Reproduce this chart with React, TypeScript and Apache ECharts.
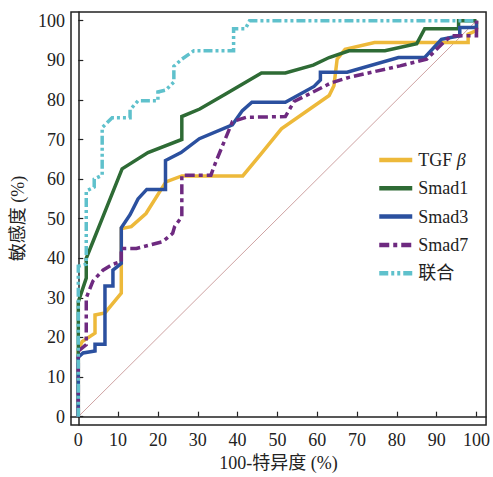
import React, { useEffect, useRef } from "react";
import * as echarts from "echarts";

const seriesNames = ["TGF β", "Smad1", "Smad3", "Smad7", "联合"];
const tickValues = [0, 10, 20, 30, 40, 50, 60, 70, 80, 90, 100];

const tgfData = [
  [0, 0], [0, 17], [1, 19], [4.2, 21.1], [4.2, 25.7], [6.7, 26.2], [10.8, 31.2], [10.8, 47.5],
  [13.3, 48], [17, 51.3], [22, 59.3], [26, 60.8], [41.3, 60.8], [46, 66.5], [51, 72.7],
  [63, 81.1], [64.2, 83.6], [65, 90.3], [67, 92.8], [74.4, 94.5], [97.9, 94.5], [97.9, 96.6],
  [100, 97.5], [100, 100],
];
const smad1Data = [
  [0, 0], [0, 29], [2, 35], [2, 40], [4, 45], [6, 50], [11, 62.6], [17.5, 66.7], [26, 70],
  [26, 75.8], [30.5, 77.7], [37, 81.5], [46, 86.8], [52, 86.8], [59, 88.8], [63, 90.7],
  [68, 92.4], [77, 92.4], [85, 94.2], [87, 98], [95.5, 98], [95.5, 100], [100, 100],
];
const smad3Data = [
  [0, 0], [0, 15], [1.2, 16.1], [4.2, 16.6], [4.2, 18.3], [6.7, 18.3], [6.7, 33], [8.7, 33],
  [8.7, 37], [10.8, 38.7], [10.8, 47.7], [13, 51], [15, 55], [17.2, 57.4], [21.9, 57.4],
  [21.9, 64.7], [25.8, 66.7], [30.4, 70.2], [38.7, 73.7], [41.2, 77.3], [43.6, 79.4],
  [52, 79.4], [59.2, 83.4], [60.8, 85], [60.8, 87], [67.5, 87], [80.4, 90.7], [87, 90.7],
  [91.2, 95.3], [95.8, 96.2], [95.8, 98.3], [100, 98.3], [100, 100],
];
const smad7Data = [
  [0, 0], [0, 16.6], [2, 18.2], [2, 30], [3.7, 34.3], [6.2, 37], [8.7, 38.5], [10.8, 39.2],
  [10.8, 42.5], [14.6, 42.5], [21.2, 44.2], [23.7, 46.3], [24.2, 48], [26, 50.5], [26, 61],
  [33.3, 61], [34.6, 64.5], [38.7, 74.5], [42.1, 75.6], [52, 75.8], [54.2, 79.6], [58, 81.5],
  [63.5, 84.3], [68, 85.7], [80.8, 88.6], [87.5, 90.3], [91.7, 94.5], [93.7, 96.2],
  [100, 96.2], [100, 100],
];
const combinedData = [
  [0, 0], [0, 38], [2, 38.5], [2, 57], [4, 58], [4, 60], [6, 61], [6, 73], [8.5, 75.5],
  [13, 75.5], [13, 77.5], [15, 79.8], [20, 79.8], [20, 82], [22, 82.5], [24, 84.5], [24, 88.5],
  [26, 90.3], [29, 92.4], [39, 92.4], [39, 98], [42, 98], [43, 100], [100, 100],
];
const diagonalData = [
  [0, 0], [100, 100],
];

const colors = ["#EDB93A", "#2E6B35", "#2B509F", "#6E2A80", "#5FC1CC"];
const FONT = "Liberation Serif, Noto Sans CJK SC, serif";

export default function App() {
  const ref = useRef<HTMLDivElement>(null);
  useEffect(() => {
    if (!ref.current) return;
    const chart = echarts.init(ref.current, null, { renderer: "svg" });
    const dataSets = [tgfData, smad1Data, smad3Data, smad7Data, combinedData];
    const dashTypes: any[] = ["solid", "solid", "solid", [10, 4, 4, 4], [9, 3, 3, 3, 3, 3]];
    const series: any[] = [
      {
        name: "diag",
        type: "line",
        data: diagonalData,
        symbol: "none",
        lineStyle: { color: "#CFA3A3", width: 1 },
        silent: true,
        z: 1,
      },
    ];
    seriesNames.forEach((n, i) => {
      series.push({
        name: n,
        type: "line",
        data: dataSets[i],
        symbol: "none",
        showSymbol: false,
        color: colors[i],
        lineStyle: { color: colors[i], width: 3.5, type: dashTypes[i], cap: "butt", join: "miter" },
        z: 2 + i,
      });
    });
    chart.setOption({
      animation: false,
      backgroundColor: "#fff",
      textStyle: { fontFamily: FONT },
      grid: {
        left: 71,
        right: 5,
        top: 12,
        bottom: 50,
        show: true,
        borderColor: "#222",
        borderWidth: 1.5,
        containLabel: false,
      },
      legend: {
        data: seriesNames.map((n, i) => ({
          name: n,
          lineStyle: { color: colors[i], width: 4.5, type: dashTypes[i] },
        })),
        orient: "vertical",
        left: 372,
        top: 146,
        itemWidth: 33,
        itemHeight: 14,
        itemGap: 10.3,
        itemStyle: { opacity: 0 },
        textStyle: {
          fontFamily: FONT,
          fontSize: 18,
          color: "#222",
          padding: [0, 0, 0, 1],
          rich: { i: { fontStyle: "italic", fontFamily: FONT, fontSize: 18, color: "#222" } },
        },
        formatter: (name: string) => (name === "TGF β" ? "TGF {i|β}" : name),
      },
      xAxis: {
        type: "value",
        min: -1.83,
        max: 102.4,
        name: "100-特异度 (%)",
        nameLocation: "middle",
        nameGap: 29,
        nameTextStyle: { fontFamily: FONT, fontSize: 18, color: "#222" },
        axisLine: { show: true, lineStyle: { color: "#222", width: 1.5 } },
        axisTick: {
          show: true,
          inside: true,
          length: 5,
          customValues: tickValues,
          lineStyle: { color: "#222", width: 1.2 },
        },
        axisLabel: {
          customValues: tickValues,
          fontFamily: FONT,
          fontSize: 18,
          color: "#222",
          margin: 6,
        },
        splitLine: { show: false },
      },
      yAxis: {
        type: "value",
        min: -2.1,
        max: 102.2,
        name: "敏感度 (%)",
        nameLocation: "middle",
        nameGap: 40,
        nameRotate: 90,
        nameTextStyle: { fontFamily: FONT, fontSize: 18, color: "#222" },
        axisLine: { show: true, lineStyle: { color: "#222", width: 1.5 } },
        axisTick: {
          show: true,
          inside: true,
          length: 5,
          customValues: tickValues,
          lineStyle: { color: "#222", width: 1.2 },
        },
        axisLabel: {
          customValues: tickValues,
          fontFamily: FONT,
          fontSize: 18,
          color: "#222",
          margin: 6,
        },
        splitLine: { show: false },
      },
      series,
    });
    return () => chart.dispose();
  }, []);
  return (
    <div
      ref={ref}
      style={{ position: "fixed", left: 0, top: 0, width: 493, height: 477, background: "#fff" }}
    />
  );
}
